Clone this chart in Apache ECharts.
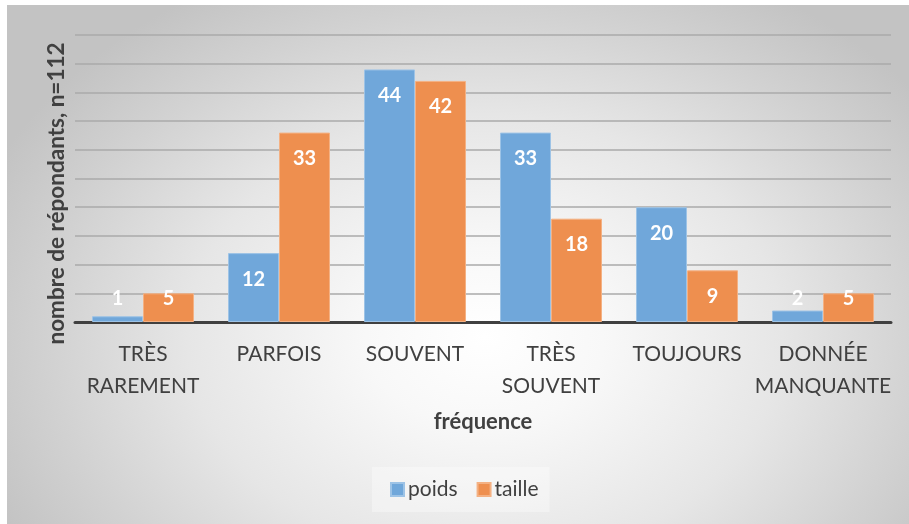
<!DOCTYPE html>
<html>
<head>
<meta charset="utf-8">
<script src="https://cdn.jsdelivr.net/npm/echarts@6/dist/echarts.min.js"></script>
<style>
  html, body { margin: 0; padding: 0; background: #fff; }
  #chart {
    position: absolute; left: 7px; top: 5px; width: 902px; height: 519px;
    background: radial-gradient(ellipse 60% 78% at 53% 64%, #ffffff 0%, #f8f8f8 22%, #e6e6e6 55%, #d2d2d2 80%, #c3c3c3 100%);
  }
</style>
</head>
<body>
<div id="chart"></div>
<script>
var categories = ['TRÈS\nRAREMENT', 'PARFOIS', 'SOUVENT', 'TRÈS\nSOUVENT', 'TOUJOURS', 'DONNÉE\nMANQUANTE']
var poids = [1, 12, 44, 33, 20, 2]
var taille = [5, 33, 42, 18, 9, 5]

var FONT = 'Lato, "Open Sans", sans-serif'

// petites barres : étiquette posée juste au-dessus de l'axe
function toData (arr) {
  return arr.map(function (v) {
    if (v < 8) {
      return { value: v, label: { position: 'insideBottom', distance: 13 } }
    }
    return v
  })
}

var chart = echarts.init(document.getElementById('chart'))

var labelStyle = {
  show: true,
  position: 'insideTop',
  distance: 16,
  color: '#fff',
  fontFamily: FONT,
  fontWeight: 'bold',
  fontSize: 20
}

chart.setOption({
  backgroundColor: 'transparent',
  animation: false,
  grid: { left: 68, right: 18, top: 30, bottom: 202 },
  legend: {
    data: ['poids', 'taille'],
    left: 365,
    top: 462,
    padding: [12, 11, 12, 18],
    backgroundColor: 'rgba(255,255,255,0.35)',
    itemWidth: 13,
    itemHeight: 13,
    itemGap: 19,
    icon: 'rect',
    textStyle: { fontFamily: FONT, fontSize: 21, color: '#404040', padding: [0, 0, 0, -1] }
  },
  xAxis: {
    type: 'category',
    data: categories,
    name: 'fréquence',
    nameLocation: 'middle',
    nameGap: 89,
    nameTextStyle: { fontFamily: FONT, fontWeight: 'bold', fontSize: 22, color: '#404040' },
    axisLine: { lineStyle: { color: '#404040', width: 3 } },
    axisTick: { show: false },
    axisLabel: {
      interval: 0,
      margin: 16,
      lineHeight: 32,
      fontFamily: FONT,
      fontSize: 21,
      color: '#404040'
    }
  },
  yAxis: {
    type: 'value',
    min: 0,
    max: 50,
    interval: 5,
    name: 'nombre de répondants, n=112',
    nameLocation: 'middle',
    nameGap: 7,
    nameRotate: 90,
    nameTextStyle: { fontFamily: FONT, fontWeight: 'bold', fontSize: 22.5, color: '#404040', padding: [0, 30, 0, 0] },
    axisLabel: { show: false },
    axisTick: { show: false },
    axisLine: { show: false },
    splitLine: { lineStyle: { color: '#aaaaaa', width: 1.5 } }
  },
  series: [
    {
      name: 'poids',
      type: 'bar',
      data: toData(poids),
      barGap: '0%',
      barCategoryGap: '25%',
      itemStyle: { color: '#70a7da', borderColor: '#9dc3e6', borderWidth: 1 },
      label: labelStyle
    },
    {
      name: 'taille',
      type: 'bar',
      data: toData(taille),
      itemStyle: { color: '#ee8f4f', borderColor: '#f4b183', borderWidth: 1 },
      label: labelStyle
    }
  ]
})
</script>
</body>
</html>
